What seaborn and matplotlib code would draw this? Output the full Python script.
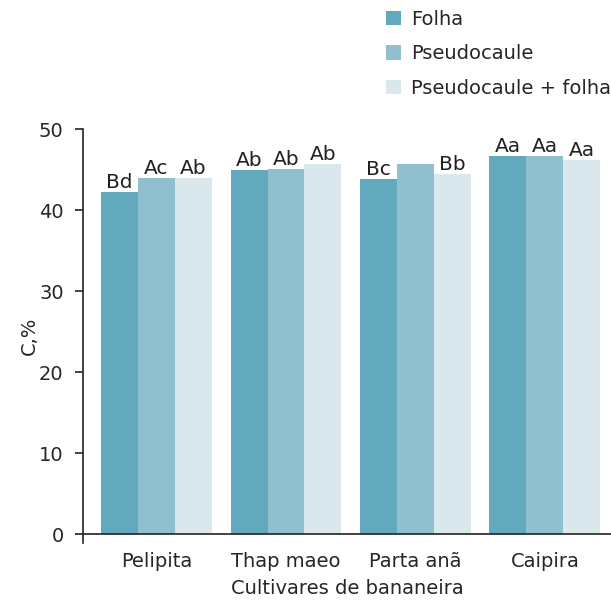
import numpy as np
import pandas as pd
import matplotlib
matplotlib.use('Agg')
import matplotlib.pyplot as plt
import seaborn as sns

cultivares = ['Pelipita', 'Thap maeo', 'Parta anã', 'Caipira']
partes = ['Folha', 'Pseudocaule', 'Pseudocaule + folha']
folha = [42.3, 45.0, 43.9, 46.7]
pseudocaule = [44.0, 45.1, 45.7, 46.7]
pseudo_folha = [44.0, 45.7, 44.5, 46.2]
letras = {
	'Folha': ['Bd', 'Ab', 'Bc', 'Aa'],
	'Pseudocaule': ['Ac', 'Ab', '', 'Aa'],
	'Pseudocaule + folha': ['Ab', 'Ab', 'Bb', 'Aa'],
}
cores = ['#63a9be', '#90bfce', '#dae8ee']

sns.set_style('white')
plt.rcParams['font.family'] = ['DejaVu Sans']
fs = 14

df = pd.DataFrame({
	'cultivar': cultivares * 3,
	'parte': [p for p in partes for _ in cultivares],
	'C': folha + pseudocaule + pseudo_folha,
})

fig = plt.figure(figsize=(6.11, 6.02), dpi=100)
ax = fig.add_axes([0.136, 0.098, 0.864, 0.687])
sns.barplot(data=df, x='cultivar', y='C', hue='parte', palette=cores, saturation=1,
	width=0.857, linewidth=0, ax=ax)

for cont, parte in zip(ax.containers, partes):
	ax.bar_label(cont, labels=letras[parte], padding=0, fontsize=14.5, color='#222222', clip_on=False)

ax.set_xlim(-0.567, 3.51)
ax.set_ylim(-1.1, 50)
ax.set_yticks([0, 10, 20, 30, 40, 50])
ax.spines['bottom'].set_position(('data', 0))
for s in ('top', 'right'):
	ax.spines[s].set_visible(False)
for s in ('left', 'bottom'):
	ax.spines[s].set_color('#222222')
	ax.spines[s].set_linewidth(1.2)
ax.tick_params(axis='y', length=6, width=1.2, color='#222222', labelsize=fs, direction='out',
	left=True, pad=8)
ax.tick_params(axis='x', length=0, labelsize=fs, pad=13)
ax.set_ylabel('C,%', fontsize=fs, labelpad=0)
ax.set_xlabel('Cultivares de bananeira', fontsize=fs, labelpad=6)

handles, labels = ax.get_legend_handles_labels()
ax.get_legend().remove()
fig.legend(handles, labels, loc='upper left', bbox_to_anchor=(0.603, 1.013), frameon=False,
	fontsize=fs, handlelength=0.78, handleheight=0.78, handletextpad=0.5, labelspacing=0.8)

fig.savefig('out.png', dpi=100)
